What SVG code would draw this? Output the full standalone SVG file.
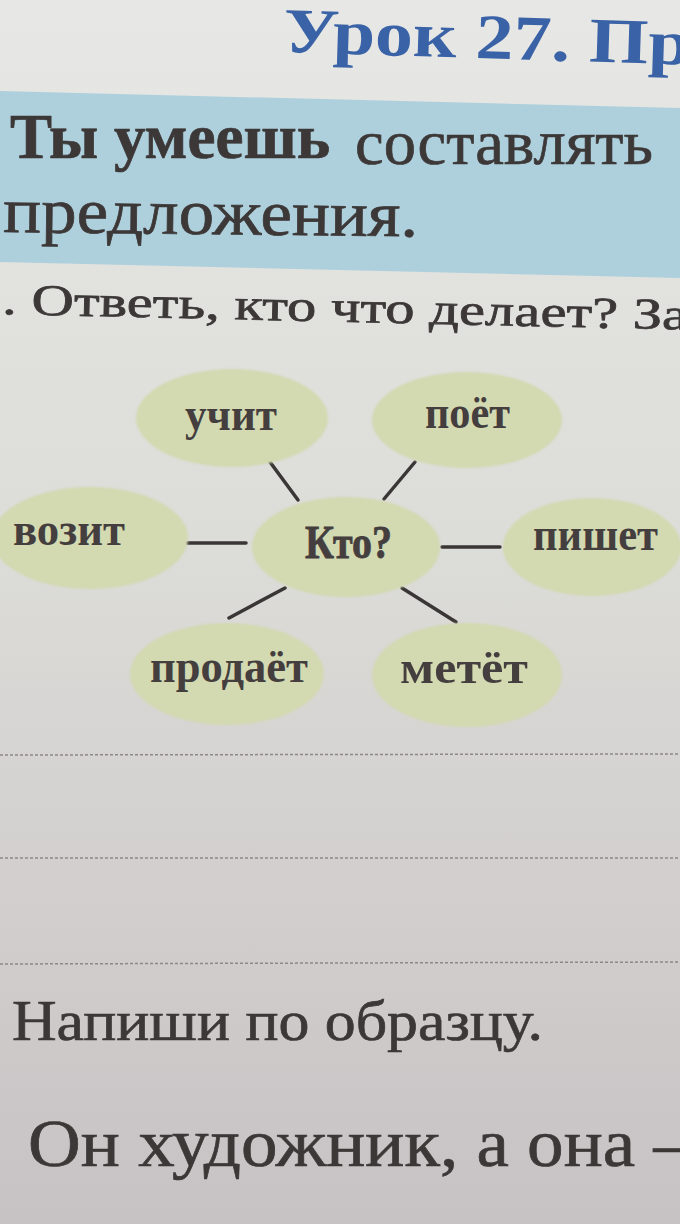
<svg xmlns="http://www.w3.org/2000/svg" width="680" height="1224" viewBox="0 0 680 1224">
  <defs>
    <linearGradient id="page" x1="0" y1="0" x2="0" y2="1">
      <stop offset="0" stop-color="#e7e7e5"/>
      <stop offset="0.45" stop-color="#dcdcd8"/>
      <stop offset="1" stop-color="#c7c2c4"/>
    </linearGradient>
    <filter id="soft" x="-5%" y="-5%" width="110%" height="110%">
      <feGaussianBlur stdDeviation="1.2"/>
    </filter>
  </defs>
  <style>
    .serif { font-family: "Liberation Serif", "DejaVu Serif", serif; fill: #3d3838; stroke: #3d3838; stroke-width: 0.7px; }
    .title { font-family: "Liberation Serif", "DejaVu Serif", serif; font-weight: bold; fill: #3a62a6; font-size: 64px; }
    .blob { fill: #d3d9b0; filter: url(#soft); }
    .lbl { font-family: "Liberation Serif", "DejaVu Serif", serif; font-weight: bold; font-size: 46px; fill: #443e3e; text-anchor: middle; }
    .conn { stroke: #3a3636; stroke-width: 3.5; stroke-linecap: round; }
    .rule { stroke: #8c8888; stroke-width: 1.5; stroke-dasharray: 3 2; }
  </style>

  <rect x="0" y="0" width="680" height="1224" fill="url(#page)"/>

  <!-- header -->
  <text class="title" x="283" y="52" textLength="407" lengthAdjust="spacingAndGlyphs" transform="rotate(1.8 283 52)">Урок 27. Пр</text>
  <polygon points="0,91 680,108 680,278 0,262" fill="#aed0dc"/>
  <text class="serif" x="10" y="158" font-size="64" font-weight="bold" textLength="320" lengthAdjust="spacingAndGlyphs">Ты умеешь</text>
  <text class="serif" x="355" y="164" font-size="64" textLength="298" lengthAdjust="spacingAndGlyphs">составлять</text>
  <text class="serif" x="3" y="232" font-size="64" textLength="415" lengthAdjust="spacingAndGlyphs" transform="rotate(0.6 3 232)">предложения.</text>
  <text class="serif" x="2" y="314" font-size="44" textLength="686" lengthAdjust="spacingAndGlyphs" transform="rotate(1.3 0 314)">. Ответь, кто что делает? За</text>

  <!-- connectors -->
  <g id="connectors">
    <line class="conn" x1="270" y1="462" x2="298" y2="500"/>
    <line class="conn" x1="415" y1="462" x2="384" y2="499"/>
    <line class="conn" x1="187" y1="543" x2="246" y2="543"/>
    <line class="conn" x1="442" y1="547" x2="500" y2="547"/>
    <line class="conn" x1="285" y1="588" x2="229" y2="618"/>
    <line class="conn" x1="402" y1="588" x2="456" y2="622"/>
  </g>

  <!-- nodes -->
  <g id="node-uchit">
    <ellipse class="blob" cx="232" cy="418" rx="96" ry="49"/>
    <text class="lbl" x="231" y="430" textLength="92" lengthAdjust="spacingAndGlyphs">учит</text>
  </g>
  <g id="node-poet">
    <ellipse class="blob" cx="467" cy="420" rx="95" ry="48"/>
    <text class="lbl" x="467.5" y="428" textLength="85" lengthAdjust="spacingAndGlyphs">поёт</text>
  </g>
  <g id="node-vozit">
    <ellipse class="blob" cx="90" cy="538" rx="98" ry="51"/>
    <text class="lbl" x="69" y="545" textLength="112" lengthAdjust="spacingAndGlyphs">возит</text>
  </g>
  <g id="node-kto">
    <ellipse class="blob" cx="346" cy="547" rx="94" ry="50"/>
    <text class="lbl" x="348.5" y="558" textLength="87" lengthAdjust="spacingAndGlyphs" font-weight="normal" stroke="#443e3e" stroke-width="0.8">Кто?</text>
  </g>
  <g id="node-pishet">
    <ellipse class="blob" cx="592" cy="547" rx="89" ry="49"/>
    <text class="lbl" x="595.5" y="550" textLength="125" lengthAdjust="spacingAndGlyphs">пишет</text>
  </g>
  <g id="node-prodaet">
    <ellipse class="blob" cx="227" cy="674" rx="97" ry="51"/>
    <text class="lbl" x="229" y="682" textLength="158" lengthAdjust="spacingAndGlyphs">продаёт</text>
  </g>
  <g id="node-metet">
    <ellipse class="blob" cx="467" cy="675" rx="95" ry="52"/>
    <text class="lbl" x="464" y="683" textLength="128" lengthAdjust="spacingAndGlyphs">метёт</text>
  </g>

  <!-- ruled lines -->
  <line class="rule" x1="0" y1="755" x2="680" y2="754"/>
  <line class="rule" x1="0" y1="858" x2="680" y2="858"/>
  <line class="rule" x1="0" y1="964" x2="680" y2="962"/>

  <!-- bottom text -->
  <text class="serif" x="12" y="1040" font-size="58" textLength="531" lengthAdjust="spacingAndGlyphs">Напиши по образцу.</text>
  <text class="serif" x="28" y="1166" font-size="68" textLength="662" lengthAdjust="spacingAndGlyphs">Он художник, а она –</text>
</svg>
